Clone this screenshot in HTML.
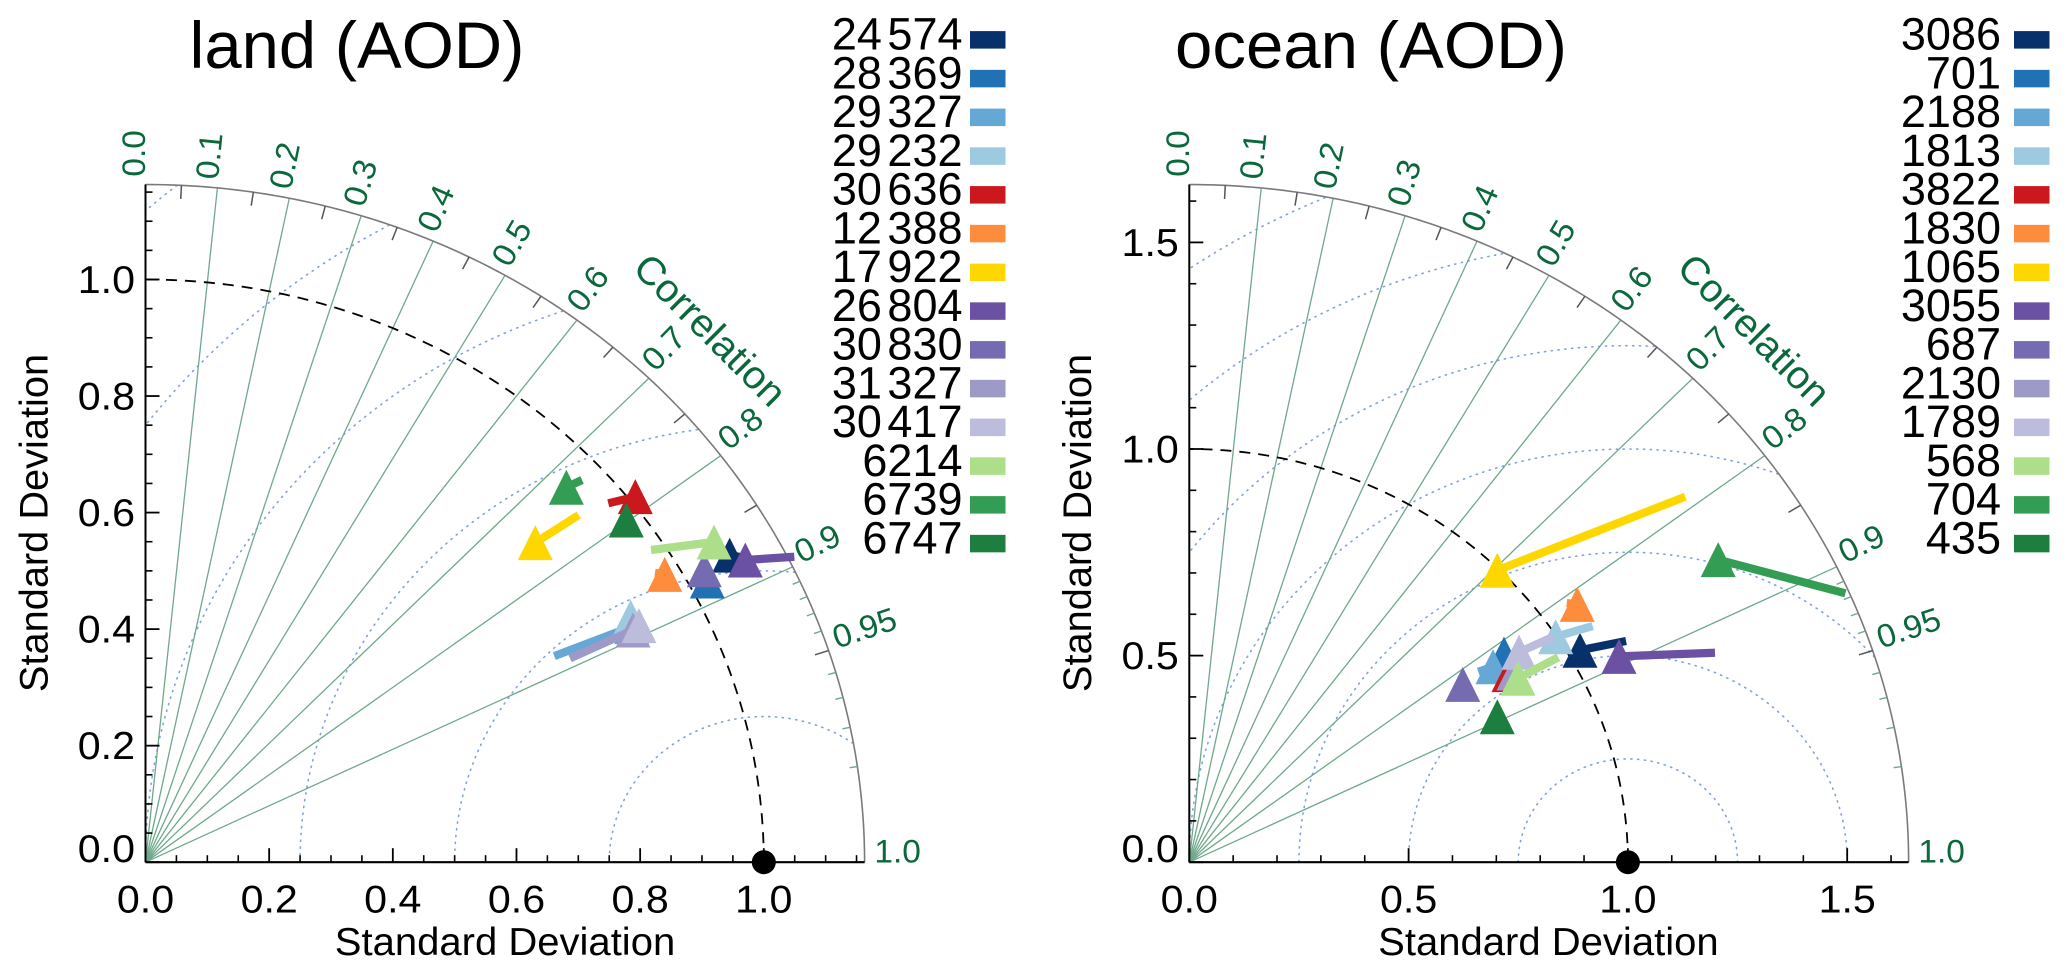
<!DOCTYPE html>
<html lang="en">
<head>
<meta charset="utf-8">
<title>Taylor diagrams: land and ocean AOD</title>
<style>
html,body{margin:0;padding:0;background:#fff;}
svg{display:block;}
text{font-family:"Liberation Sans",Arial,sans-serif;}
</style>
</head>
<body>
<svg id="figure" xmlns="http://www.w3.org/2000/svg" width="2067" height="974" viewBox="0 0 2067 974">
<rect x="0" y="0" width="2067" height="974" fill="#fff"/>
<g id="land-panel"></g>
<g id="ocean-panel"></g>
<text transform="translate(189.5,68) scale(1.015,1)" font-size="66" fill="#000">land (AOD)</text>
<text transform="translate(1175,68) scale(1.018,1)" font-size="66" fill="#000">ocean (AOD)</text>
<text transform="translate(505,955) scale(1.04,1)" font-size="38.5" text-anchor="middle" fill="#000">Standard Deviation</text>
<text transform="translate(1548.4,955) scale(1.04,1)" font-size="38.5" text-anchor="middle" fill="#000">Standard Deviation</text>
<text transform="translate(47.5,523) rotate(-90) scale(1.033,1.04)" font-size="38.5" text-anchor="middle" fill="#000">Standard Deviation</text>
<text transform="translate(1091,523) rotate(-90) scale(1.033,1.04)" font-size="38.5" text-anchor="middle" fill="#000">Standard Deviation</text>
</svg>
<script>
// ---- series colours (legend order, shared by both panels)
const seriesColors = ['#08306b','#2171b5','#65a8d6','#9ecae1','#cb181d','#fd8d3c','#ffd700','#6a51a3','#756bb1','#9e9ac8','#bcbddc','#addf8a','#339d53','#1c7f3f'];

// ---- land panel data
const landCounts = ['24 574','28 369','29 327','29 232','30 636','12 388','17 922','26 804','30 830','31 327','30 417','6214','6739','6747'];
const landStd = [1.0819,1.0288,0.8842,0.8902,1.0105,0.9743,0.8355,1.1000,1.0338,0.8834,0.8955,1.0712,0.9366,0.9745];
const landCorr = [0.8733,0.8832,0.8894,0.8815,0.7840,0.8619,0.7545,0.8819,0.8742,0.8925,0.8913,0.8584,0.7267,0.7980];
const landTailStd = [1.1000,1.0288,0.7499,0.8902,0.9693,0.9619,0.9197,1.1730,1.0338,0.7706,0.8955,0.9775,0.9637,0.9745];
const landTailCorr = [0.8800,0.8832,0.8817,0.8815,0.7722,0.8566,0.7618,0.8946,0.8742,0.8910,0.8913,0.8364,0.7326,0.7980];
const landAxisTicks = ['0.0','0.2','0.4','0.6','0.8','1.0'];
const landMinorTicks = [0.05,0.1,0.15,0.25,0.3,0.35,0.45,0.5,0.55,0.65,0.7,0.75,0.85,0.9,0.95,1.05,1.1,1.15];

// ---- ocean panel data
const oceanCounts = ['3086','701','2188','1813','3822','1830','1065','3055','687','2130','1789','568','704','435'];
const oceanStd = [1.0279,0.8767,0.8386,0.9978,0.8586,1.0826,0.9961,1.0991,0.7576,0.8705,0.9073,0.8716,1.4108,0.7856];
const oceanCorr = [0.8666,0.8184,0.8257,0.8372,0.8489,0.8171,0.7050,0.8914,0.8229,0.8505,0.8285,0.8598,0.8548,0.8939];
const oceanTailStd = [1.1305,0.8767,0.8041,1.0829,0.8586,1.0649,1.4358,1.3014,0.7576,0.8705,0.9932,0.9766,1.6314,0.7856];
const oceanTailCorr = [0.8808,0.8184,0.8194,0.8494,0.8489,0.8081,0.7876,0.9210,0.8229,0.8505,0.8356,0.8615,0.9170,0.8939];
const oceanAxisTicks = ['0.0','0.5','1.0','1.5'];
const oceanMinorTicks = [0.1,0.2,0.3,0.4,0.6,0.7,0.8,0.9,1.1,1.2,1.3,1.4,1.6];

// ---- correlation axis (shared)
const corrLabels = ['0.0','0.1','0.2','0.3','0.4','0.5','0.6','0.7','0.8','0.9','0.95','1.0'];
const corrSpokes = [0.1,0.2,0.3,0.4,0.5,0.6,0.7,0.8,0.9];
const corrMajorTicks = [0.05,0.15,0.25,0.35,0.45,0.55,0.65,0.75,0.85,0.95];
const corrMinorTicks = [0.91,0.92,0.93,0.94,0.96,0.97,0.98,0.99];
const rmsRadii = [0.25,0.5,0.75,1.0,1.25,1.5,1.75];

const NS = 'http://www.w3.org/2000/svg';
function mk(tag, attrs, parent){
  const el = document.createElementNS(NS, tag);
  for (const k in attrs) el.setAttribute(k, attrs[k]);
  parent.appendChild(el);
  return el;
}

function drawPanel(p){
  const root = document.getElementById(p.id);
  const sx = v => p.ox + v * p.ux;
  const sy = v => p.oy - v * p.uy;
  const polarX = (s, c) => sx(s * c);
  const polarY = (s, c) => sy(s * Math.sqrt(Math.max(0, 1 - c * c)));
  const INK = '#000', ARC = '#7a7a7a', GREEN = '#0a683b', SPOKE = '#6ea98b', DOT = '#7fa3dd';

  // RMS dotted arcs around the reference point (1, 0)
  rmsRadii.forEach(r => {
    let d = '', pen = false;
    for (let i = 0; i <= 720; i++) {
      const t = Math.PI * i / 720;
      const x = 1 + r * Math.cos(t), y = r * Math.sin(t);
      if (x >= 0 && x * x + y * y <= p.max * p.max) {
        d += (pen ? 'L' : 'M') + sx(x).toFixed(2) + ' ' + sy(y).toFixed(2);
        pen = true;
      } else { pen = false; }
    }
    const arc = mk('path', {d: d, fill: 'none', stroke: DOT, 'stroke-width': 1.6, 'stroke-dasharray': '1.2 5.6', 'stroke-linecap': 'round'}, root);
    
    
  });

  // correlation spokes
  corrSpokes.forEach(c => {
    const spoke = mk('line', {x1: sx(0), y1: sy(0), x2: polarX(p.max, c), y2: polarY(p.max, c), stroke: SPOKE, 'stroke-width': 1.3}, root);
    
    
  });

  // reference std-dev arc
  let ref = '';
  for (let i = 0; i <= 180; i++) {
    const t = Math.PI / 2 * i / 180;
    ref += (i ? 'L' : 'M') + sx(Math.cos(t)).toFixed(2) + ' ' + sy(Math.sin(t)).toFixed(2);
  }
  const refArc = mk('path', {d: ref, fill: 'none', stroke: INK, 'stroke-width': 1.8, 'stroke-dasharray': '11 8'}, root);
  
  

  // outer correlation arc
  let outer = '';
  for (let i = 0; i <= 180; i++) {
    const t = Math.PI / 2 * i / 180;
    outer += (i ? 'L' : 'M') + sx(p.max * Math.cos(t)).toFixed(2) + ' ' + sy(p.max * Math.sin(t)).toFixed(2);
  }
  const outerArc = mk('path', {d: outer, fill: 'none', stroke: ARC, 'stroke-width': 1.6}, root);
  
  

  corrMajorTicks.forEach(c => {
    const t = mk('line', {x1: polarX(p.max, c), y1: polarY(p.max, c), x2: polarX(p.max * 0.98, c), y2: polarY(p.max * 0.98, c), stroke: '#555', 'stroke-width': 1.5}, root);
    
    
  });
  corrMinorTicks.forEach(c => {
    const t = mk('line', {x1: polarX(p.max, c), y1: polarY(p.max, c), x2: polarX(p.max * 0.989, c), y2: polarY(p.max * 0.989, c), stroke: SPOKE, 'stroke-width': 1.4}, root);
    
    
  });

  // correlation labels
  corrLabels.forEach(lab => {
    const c = parseFloat(lab);
    const ang = Math.acos(c);
    const labAng = ang + 0.9 * Math.PI / 180;
    const r = p.max * (lab === '0.95' ? 1.058 : 1.046);
    const x = sx(r * Math.cos(labAng)), y = sy(r * Math.sin(labAng));
    const deg = -ang * 180 / Math.PI;
    const t = mk('text', {transform: 'translate(' + x.toFixed(1) + ',' + y.toFixed(1) + ') rotate(' + deg.toFixed(1) + ') scale(1.03,1)', 'font-size': 32.5, 'text-anchor': 'middle', dy: '0.35em', fill: GREEN}, root);
    t.textContent = lab;
    
    
  });
  const corrR = p.max * 1.111;
  const corrTitle = mk('text', {transform: 'translate(' + sx(corrR * Math.SQRT1_2).toFixed(1) + ',' + sy(corrR * Math.SQRT1_2).toFixed(1) + ') rotate(45) scale(1.03,1)', 'font-size': 39, 'text-anchor': 'middle', dy: '0.35em', fill: GREEN}, root);
  corrTitle.textContent = 'Correlation';
  
  

  // cartesian axes
  const xAxis = mk('line', {x1: sx(0), y1: sy(0), x2: sx(p.max), y2: sy(0), stroke: INK, 'stroke-width': 2.2}, root);
  
  
  const yAxis = mk('line', {x1: sx(0), y1: sy(0), x2: sx(0), y2: sy(p.max), stroke: INK, 'stroke-width': 2}, root);
  
  

  p.minor.forEach(v => {
    const a = mk('line', {x1: sx(v), y1: sy(0), x2: sx(v), y2: sy(0) - 7, stroke: INK, 'stroke-width': 1.6}, root);
    
    
    const b = mk('line', {x1: sx(0), y1: sy(v), x2: sx(0) + 7, y2: sy(v), stroke: INK, 'stroke-width': 1.6}, root);
    
    
  });
  p.major.forEach(lab => {
    const v = parseFloat(lab);
    const a = mk('line', {x1: sx(v), y1: sy(0), x2: sx(v), y2: sy(0) - 14, stroke: INK, 'stroke-width': 1.8}, root);
    
    
    const b = mk('line', {x1: sx(0), y1: sy(v), x2: sx(0) + 14, y2: sy(v), stroke: INK, 'stroke-width': 1.8}, root);
    
    
    const xl = mk('text', {transform: 'translate(' + sx(v).toFixed(1) + ',912.5) scale(1.07,1)', 'font-size': 38.5, 'text-anchor': 'middle', fill: INK}, root);
    xl.textContent = lab;
    
    
    const base = v === 0 ? sy(0) : sy(v) + 13.5;
    const yl = mk('text', {transform: 'translate(' + (sx(0) - 10.5) + ',' + base.toFixed(1) + ') scale(1.07,1)', 'font-size': 38.5, 'text-anchor': 'end', fill: INK}, root);
    yl.textContent = lab;
    
    
  });

  // series: arrow shaft from tail to triangle
  p.counts.forEach((count, i) => {
    const hx = polarX(p.std[i], p.corr[i]), hy = polarY(p.std[i], p.corr[i]);
    const tx = polarX(p.tailStd[i], p.tailCorr[i]), ty = polarY(p.tailStd[i], p.tailCorr[i]);
    const shaft = mk('line', {x1: tx, y1: ty, x2: hx, y2: hy, stroke: seriesColors[i], 'stroke-width': 8.2}, root);
    
    
    const tri = mk('polygon', {points: hx + ',' + (hy - 17.5) + ' ' + (hx + 17.5) + ',' + (hy + 17.5) + ' ' + (hx - 17.5) + ',' + (hy + 17.5), fill: seriesColors[i]}, root);
    
    
  });

  // reference point
  const refDot = mk('ellipse', {cx: sx(1), cy: sy(0), rx: 12, ry: 12, fill: '#000'}, root);
  
  

  // legend
  p.counts.forEach((count, i) => {
    const y = 49.6 + i * 38.75;
    const lab = mk('text', {transform: 'translate(' + p.legendText + ',' + y.toFixed(1) + ')', 'font-size': 45, 'text-anchor': 'end', fill: INK, style: 'word-spacing:-7px'}, root);
    lab.textContent = count;
    
    
    const sw = mk('rect', {x: p.legendSwatch, y: y - 18.5, width: 35.5, height: 17.5, fill: seriesColors[i]}, root);
    
    
  });
}

drawPanel({id: 'land-panel', ox: 145.5, oy: 862.2, ux: 618.3, uy: 582.7, max: 1.163,
  major: landAxisTicks, minor: landMinorTicks, counts: landCounts,
  std: landStd, corr: landCorr, tailStd: landTailStd, tailCorr: landTailCorr,
  legendText: 962.5, legendSwatch: 970});
drawPanel({id: 'ocean-panel', ox: 1189.3, oy: 862.2, ux: 438.6, uy: 413.2, max: 1.64,
  major: oceanAxisTicks, minor: oceanMinorTicks, counts: oceanCounts,
  std: oceanStd, corr: oceanCorr, tailStd: oceanTailStd, tailCorr: oceanTailCorr,
  legendText: 2001, legendSwatch: 2014});
</script>
</body>
</html>
